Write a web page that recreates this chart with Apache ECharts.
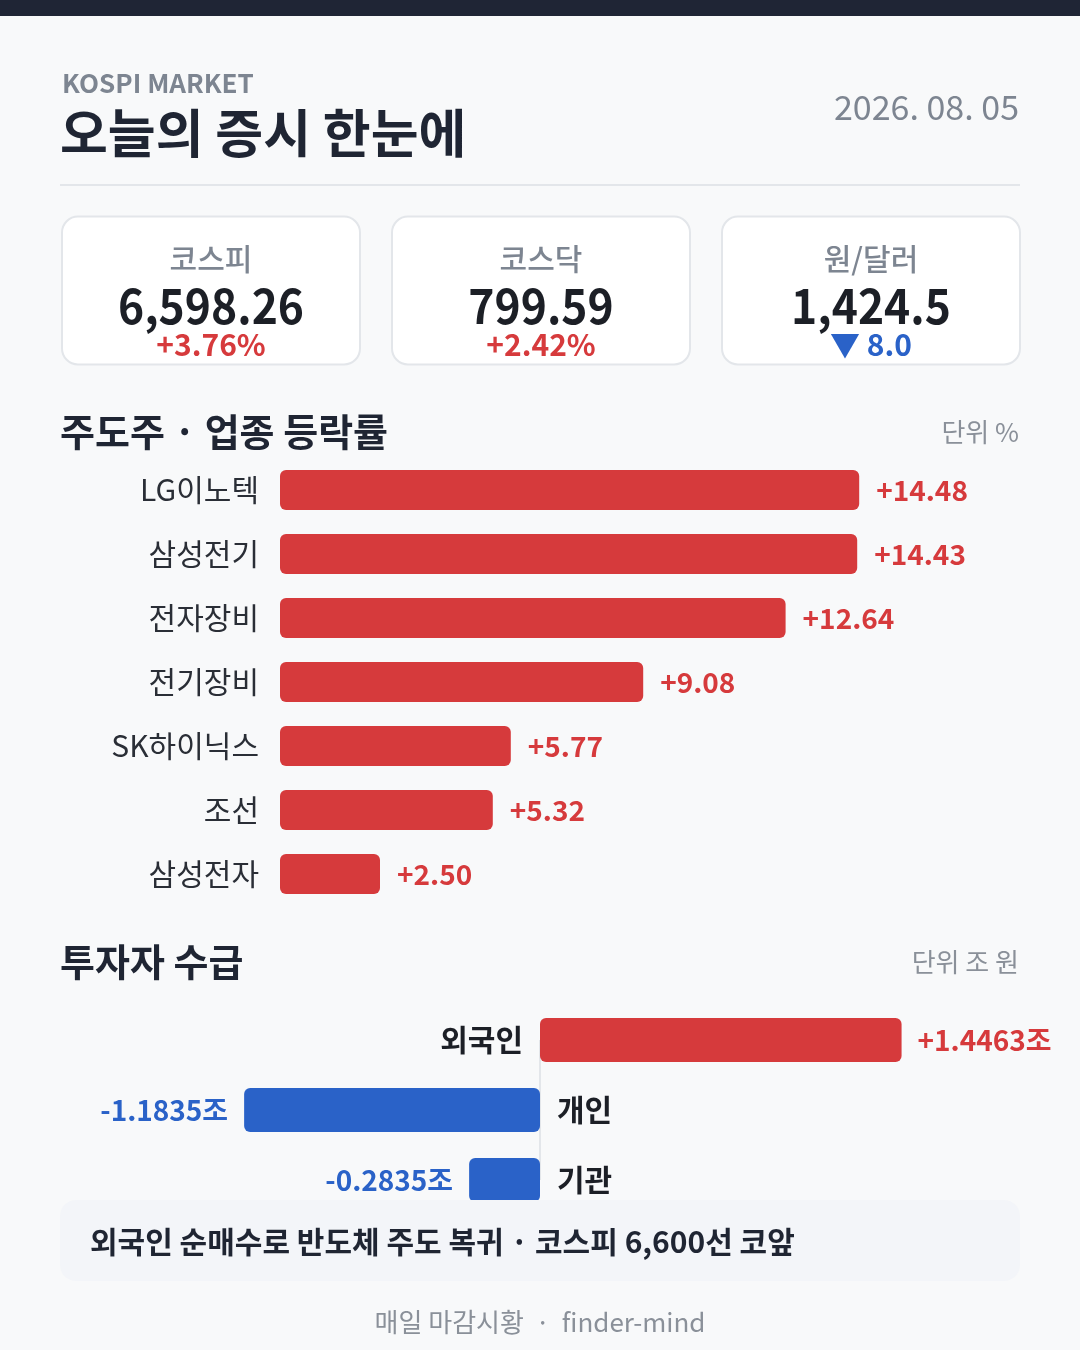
<!DOCTYPE html>
<html>
<head>
<meta charset="utf-8">
<script src="https://cdn.jsdelivr.net/npm/echarts@6/dist/echarts.min.js"></script>
<style>
  html, body { margin: 0; padding: 0; background: #f8f9fa; }
  #main { width: 1080px; height: 1350px; }
</style>
</head>
<body>
<div id="main"></div>
<script>
// 오늘의 증시 카드

var FONT = '"Noto Sans CJK KR", "Noto Sans", sans-serif';
var RED = '#d63a3c';
var BLUE = '#2a62c8';
var DARK = '#1f2533';
var GREY = '#7d8591';

// 지수 카드
var indexNames = ['코스피', '코스닥', '원/달러'];
var indexValues = ['6,598.26', '799.59', '1,424.5'];
var indexChanges = ['+3.76%', '+2.42%', '▼ 8.0'];
var indexUp = [true, true, false];

// 주도주 · 업종 등락률 (%)
var sectorNames = ['LG이노텍', '삼성전기', '전자장비', '전기장비', 'SK하이닉스', '조선', '삼성전자'];
var sectorChanges = [14.48, 14.43, 12.64, 9.08, 5.77, 5.32, 2.50];

// 투자자 수급 (조 원)
var investorNames = ['외국인', '개인', '기관'];
var investorFlows = [1.4463, -1.1835, -0.2835];

var summaryText = '외국인 순매수로 반도체 주도 복귀 · 코스피 6,600선 코앞';
var footerText = '매일 마감시황  ·  finder-mind';

function txt(x, y, text, font, fill, align, z) {
    return {
        type: 'text', x: x, y: y, z: z || 10,
        style: {
            text: text, font: font, fill: fill,
            align: align || 'left', verticalAlign: 'middle',
            textAlign: align || 'left', textVerticalAlign: 'middle'
        }
    };
}

var graphics = [];
// 상단 바
graphics.push({ type: 'rect', shape: { x: 0, y: 0, width: 1080, height: 16 }, style: { fill: '#1f2535' } });
graphics.push(txt(62, 83, 'KOSPI MARKET', 'bold 26px ' + FONT, GREY));
graphics.push(txt(60, 133, '오늘의 증시 한눈에', 'bold 52px ' + FONT, DARK));
graphics.push(txt(1019, 107, '2026. 08. 05', '34px ' + FONT, GREY, 'right'));
graphics.push({ type: 'rect', shape: { x: 60, y: 184, width: 960, height: 2 }, style: { fill: '#e3e6ea' } });

// 카드
var cardX = [62, 392, 722];
for (var i = 0; i < indexNames.length; i++) {
    var cx = cardX[i] + 149;
    graphics.push({
        type: 'rect', shape: { x: cardX[i], y: 216.5, width: 298, height: 148, r: 16 },
        style: { fill: '#ffffff', stroke: '#e3e6ea', lineWidth: 2 }
    });
    graphics.push(txt(cx, 259, indexNames[i], '500 30px ' + FONT, GREY, 'center'));
    var v = txt(cx, 306, indexValues[i], 'bold 48px ' + FONT, '#1c1f26', 'center');
    v.scaleX = 0.925; // 숫자 자간 좁게
    graphics.push(v);
    graphics.push(txt(cx, 345, indexChanges[i], 'bold 30px ' + FONT, indexUp[i] ? RED : BLUE, 'center'));
}

// 섹션 제목
graphics.push(txt(60, 432, '주도주 · 업종 등락률', 'bold 38px ' + FONT, DARK));
graphics.push(txt(1019, 432, '단위 %', '26px ' + FONT, '#8a9099', 'right'));
graphics.push(txt(60, 962, '투자자 수급', 'bold 38px ' + FONT, DARK));
graphics.push(txt(1019, 962, '단위 조 원', '26px ' + FONT, '#8a9099', 'right'));

// 요약 박스
graphics.push({
    type: 'rect', z: 100, shape: { x: 60, y: 1200, width: 960, height: 81, r: 16 },
    style: { fill: '#f3f5f9' }
});
graphics.push(txt(90, 1242, summaryText, 'bold 30px ' + FONT, DARK, 'left', 101));
graphics.push(txt(540, 1322, footerText, '26px ' + FONT, '#8a9099', 'center', 101));

// 투자자 라벨
var flowData = [];
var nameData = [];
for (var j = 0; j < investorFlows.length; j++) {
    var pos = investorFlows[j] >= 0;
    flowData.push({
        value: investorFlows[j],
        itemStyle: { color: pos ? RED : BLUE },
        label: { position: pos ? 'right' : 'left', color: pos ? RED : BLUE }
    });
    nameData.push({
        value: investorFlows[j],
        label: { position: pos ? 'left' : 'right' }
    });
}

var chart = echarts.init(document.getElementById('main'));

var option = {
    backgroundColor: '#f8f9fa',
    animation: false,
    textStyle: { fontFamily: FONT },
    graphic: graphics,
    grid: [
        { left: 280, top: 458, width: 720, height: 448 },
        { left: 0, top: 1005, width: 1080, height: 210 }
    ],
    xAxis: [
        { gridIndex: 0, type: 'value', min: 0, max: 18, show: false },
        { gridIndex: 1, type: 'value', min: -2.16, max: 2.16, show: false }
    ],
    yAxis: [
        {
            gridIndex: 0, type: 'category', inverse: true, data: sectorNames,
            axisLine: { show: false }, axisTick: { show: false },
            axisLabel: { fontSize: 30, color: '#2a2e36', margin: 21, fontFamily: FONT }
        },
        {
            gridIndex: 1, type: 'category', inverse: true, data: investorNames,
            show: false
        }
    ],
    series: [
        {
            type: 'bar', xAxisIndex: 0, yAxisIndex: 0,
            data: sectorChanges, barWidth: 40, silent: true,
            itemStyle: { color: RED, borderRadius: 6 },
            label: {
                show: true, position: 'right', distance: 17,
                fontSize: 28, fontWeight: 'bold', color: RED, fontFamily: FONT,
                formatter: function (p) { return '+' + p.value.toFixed(2); }
            }
        },
        {
            type: 'bar', xAxisIndex: 1, yAxisIndex: 1,
            data: flowData, barWidth: 44, silent: true,
            itemStyle: { borderRadius: 6 },
            label: {
                show: true, distance: 16,
                fontSize: 28, fontWeight: 'bold', fontFamily: FONT,
                formatter: function (p) {
                    return (p.value >= 0 ? '+' : '') + p.value.toFixed(4) + '조';
                }
            },
            markLine: {
                z: 1, silent: true, symbol: 'none', label: { show: false },
                lineStyle: { color: '#e3e6ea', width: 2, type: 'solid' },
                data: [[{ coord: [0, investorNames[0]] }, { coord: [0, investorNames[2]] }]]
            }
        },
        {
            type: 'bar', xAxisIndex: 1, yAxisIndex: 1,
            data: nameData, barWidth: 44, barGap: '-100%', silent: true,
            itemStyle: { color: 'rgba(0,0,0,0)' },
            label: {
                show: true, distance: 17,
                fontSize: 30, fontWeight: 'bold', color: '#1c1f26', fontFamily: FONT,
                formatter: function (p) { return p.name; }
            }
        }
    ]
};

chart.setOption(option);
</script>
</body>
</html>
